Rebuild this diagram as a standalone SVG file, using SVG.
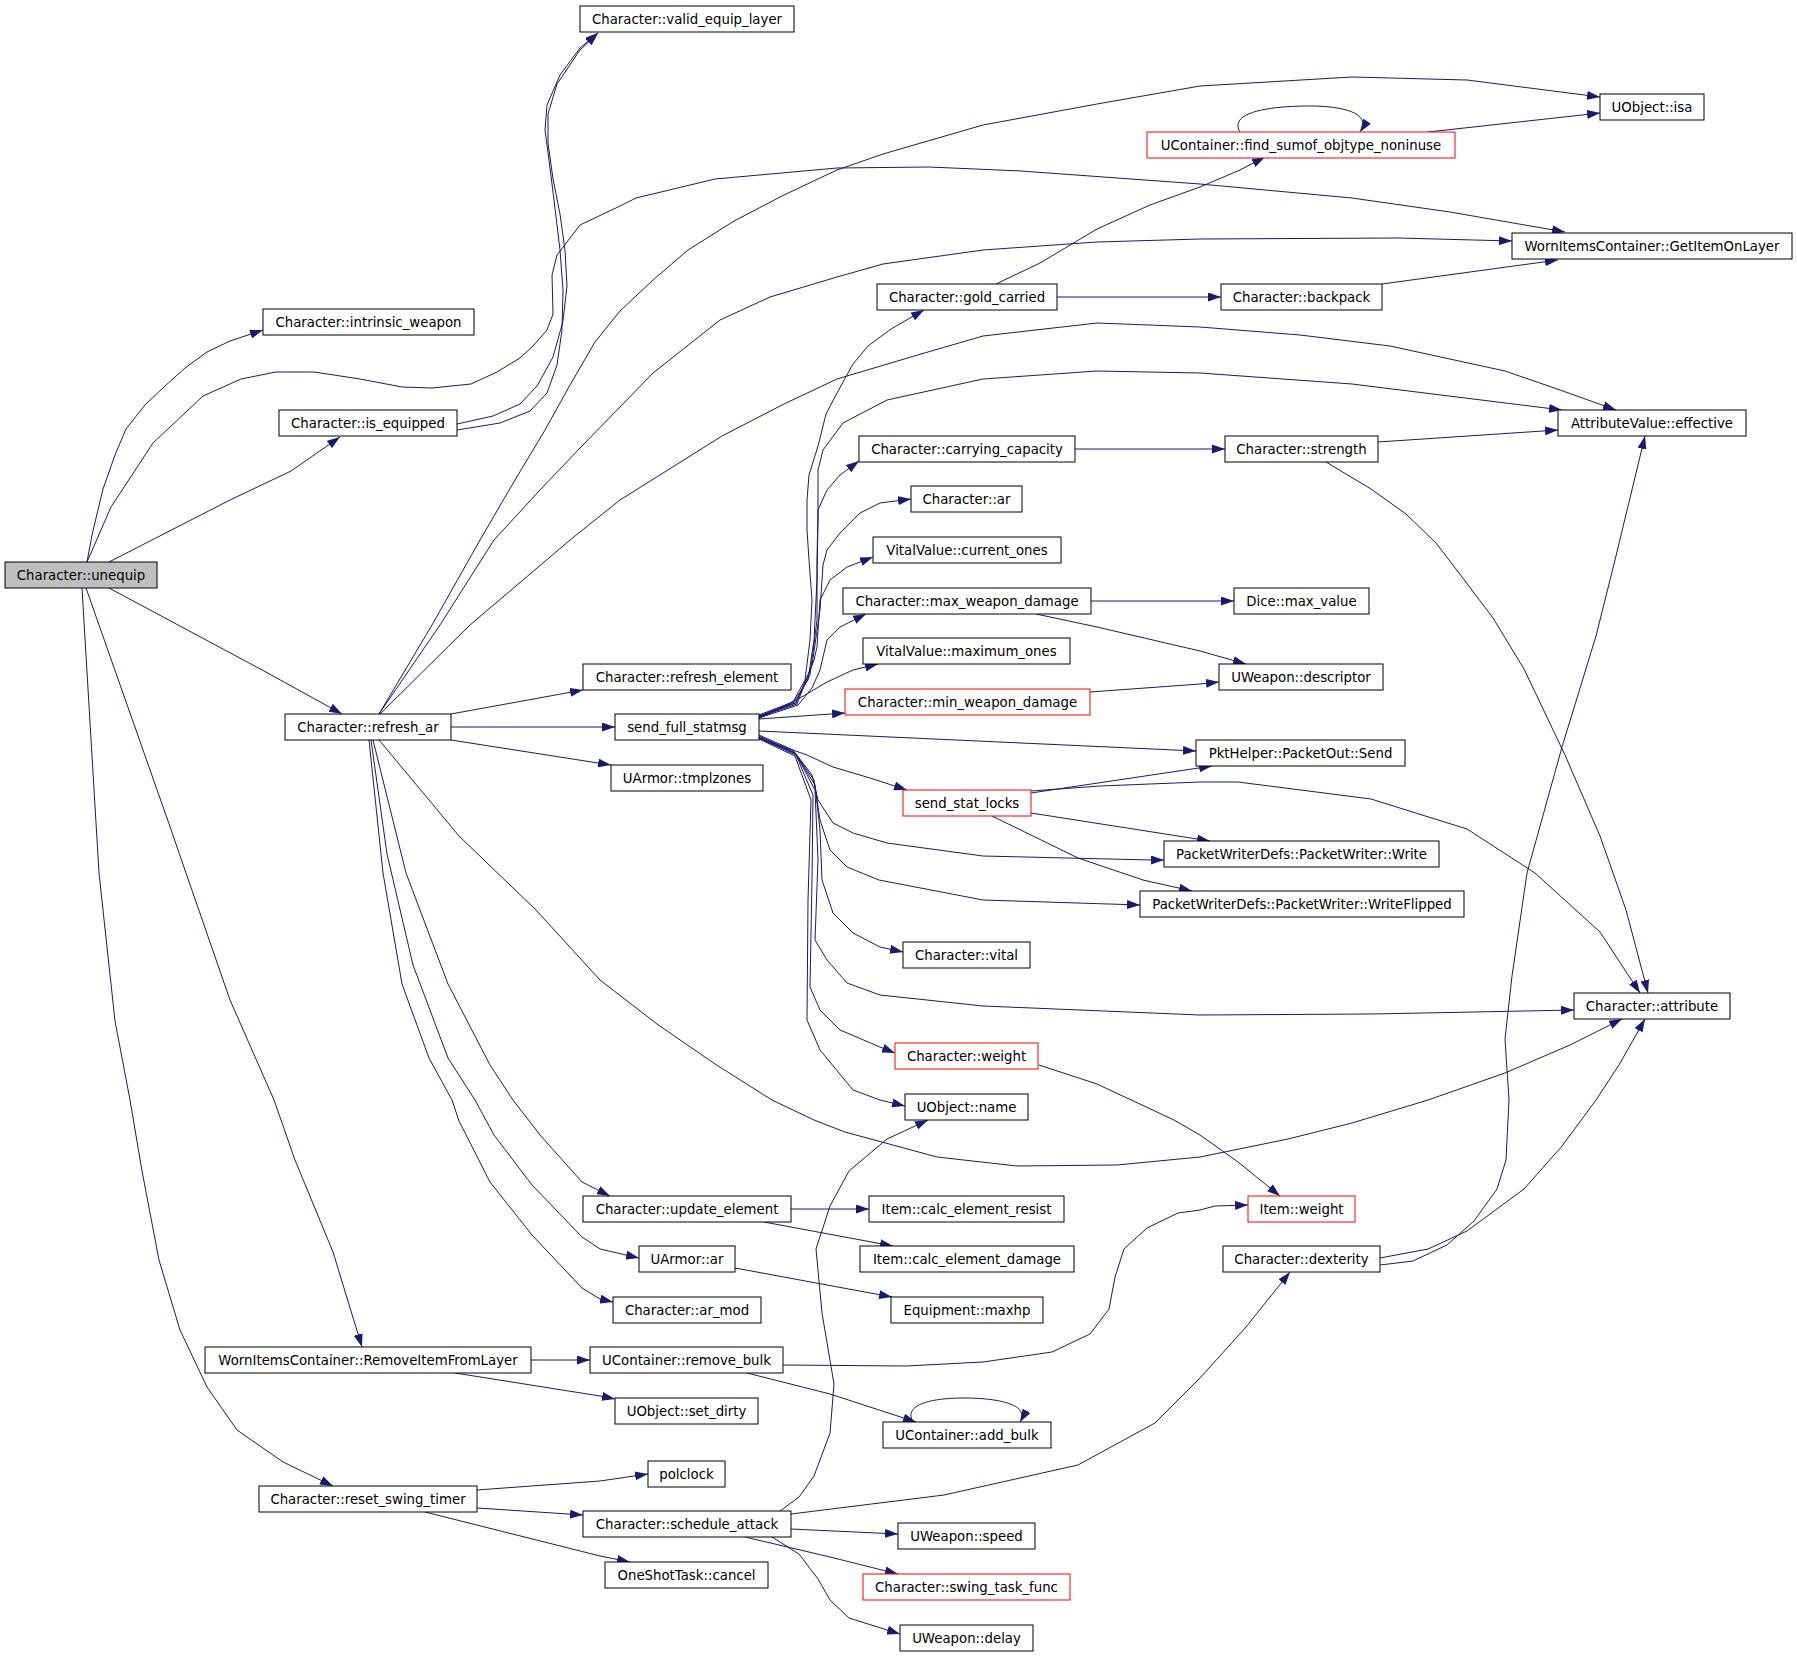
<svg xmlns="http://www.w3.org/2000/svg" width="1797" height="1656" viewBox="0 0 1797 1656">
<style>
.nd rect{fill:#fff;stroke:#000;stroke-width:1}
.nd.red rect{stroke:#f00}
.nd.cur rect{fill:#bfbfbf}
.nd text{font-family:"DejaVu Sans","Liberation Sans",sans-serif;font-size:13.3px;text-anchor:middle;fill:#000}
#edges polyline,#edges path{fill:none;stroke:#191970;stroke-width:1;stroke-linejoin:round;marker-end:url(#a)}
</style>
<defs>
<marker id="a" viewBox="0 0 13 9" refX="13" refY="4.5" markerWidth="13" markerHeight="9" markerUnits="userSpaceOnUse" orient="auto">
<path d="M0,0 L13,4.5 L0,9 z" fill="#191970"/>
</marker>
</defs>
<rect width="1797" height="1656" fill="#fff"/>
<g id="edges">
<polyline points="87,562 92,535 103,489 115,455 126,429 145,405 165,386 185,368 207,352 230,341 263,330"/>
<polyline points="109,562 230,500 291,471 340,437"/>
<polyline points="87,562 111,507 153,443 203,396 241,379 276,372 314,372 360,379 402,387 432,388 471,384 497,372 520,358 533,346 547,330 553,314 552,275 557,255 570,238 580,225 620,206 636,198 715,179 837,168 929,167 1021,171 1200,184 1352,198 1450,212 1565,232"/>
<polyline points="109,588 264,671 342,714"/>
<polyline points="86,588 168,821 230,1000 274,1100 295,1160 333,1252 362,1347"/>
<polyline points="82,588 99,873 115,1021 130,1100 142,1171 159,1260 180,1330 207,1387 237,1430 283,1462 333,1486"/>
<polyline points="457,424 493,416 520,404 537,386 553,357 563,321 567,286 565,250 560,214 553,179 548,143 548,114 557,84 580,50 598,33"/>
<polyline points="457,430 500,423 530,411 547,393 557,365 562,330 563,290 560,250 554,200 549,160 545,130 547,105 560,75 580,48 598,33"/>
<polyline points="379,714 432,625 480,540 515,480 545,430 570,385 595,342 620,311 653,280 688,250 734,221 784,195 837,170 883,154 983,125 1097,104 1200,86 1352,77 1467,80 1600,97"/>
<polyline points="379,714 440,625 494,540 540,490 580,448 620,407 653,373 720,320 770,297 837,277 883,264 983,250 1097,242 1200,239 1398,238 1512,241"/>
<polyline points="380,714 470,625 570,540 620,500 722,436 784,404 837,379 921,354 983,336 1097,323 1200,327 1300,335 1390,346 1505,371 1560,390 1616,410"/>
<polyline points="451,714 583,690"/>
<polyline points="451,727 615,727"/>
<polyline points="451,740 611,765"/>
<polyline points="379,740 459,836 536,910 600,980 657,1024 715,1064 772,1100 814,1120 845,1132 937,1157 1017,1166 1117,1165 1200,1157 1288,1139 1352,1123 1428,1100 1505,1073 1570,1045 1622,1019"/>
<polyline points="373,740 406,873 448,984 490,1065 513,1100 540,1135 582,1182 610,1196"/>
<polyline points="371,740 387,854 413,965 448,1058 475,1100 494,1135 532,1185 582,1237 600,1249 639,1258"/>
<polyline points="369,740 383,873 402,984 429,1058 452,1100 459,1121 490,1182 532,1235 582,1288 600,1299 613,1302"/>
<polyline points="759,715 793,702 805,680 810,640 812,600 809,560 807,530 807,500 809,475 818,446 826,414 837,393 853,364 868,346 891,329 924,310"/>
<polyline points="759,716 793,703 808,680 814,640 817,580 818,520 818,470 823,450 843,423 887,400 983,379 1097,371 1200,373 1352,384 1562,410"/>
<polyline points="759,716 795,703 810,675 817,620 817,560 818,510 827,490 840,475 859,461"/>
<polyline points="759,717 796,703 812,665 820,610 823,565 827,550 840,533 860,513 880,503 911,499"/>
<polyline points="759,717 797,704 814,660 817,647 820,600 830,580 847,567 873,557"/>
<polyline points="759,718 798,705 812,688 820,670 827,640 840,627 866,614"/>
<polyline points="759,718 800,698 827,682 853,670 878,664"/>
<polyline points="759,719 845,713"/>
<polyline points="759,731 1196,751"/>
<polyline points="759,738 807,755 833,767 870,778 907,790"/>
<polyline points="759,735 793,750 812,775 818,800 833,823 853,833 887,843 983,856 1151,860 1164,860"/>
<polyline points="759,736 794,752 814,780 820,820 830,850 847,867 879,880 983,900 1140,905"/>
<polyline points="759,737 795,753 815,785 820,830 822,880 833,913 853,933 880,947 903,952"/>
<polyline points="759,738 796,754 815,790 818,860 815,940 827,960 847,983 880,995 983,1006 1200,1015 1371,1014 1474,1012 1574,1010"/>
<polyline points="759,738 796,755 813,795 812,880 810,987 820,1010 840,1030 880,1047 895,1053"/>
<polyline points="759,739 795,756 811,800 808,900 807,1020 820,1050 853,1090 880,1100 905,1106"/>
<polyline points="996,284 1040,263 1097,229 1150,205 1200,187 1240,170 1265,157"/>
<polyline points="1057,297 1221,297"/>
<polyline points="1382,284 1558,260"/>
<path d="M1240,132 C1228,112 1270,106 1310,106 C1345,106 1372,114 1360,132"/>
<polyline points="1428,132 1600,113"/>
<polyline points="1075,449 1225,449"/>
<polyline points="1378,442 1558,430"/>
<polyline points="1326,462 1371,489 1406,514 1436,543 1459,573 1493,618 1524,669 1565,755 1600,836 1626,910 1648,993"/>
<polyline points="1091,601 1234,601"/>
<polyline points="1036,614 1097,627 1200,651 1246,664"/>
<polyline points="1090,692 1200,684 1219,682"/>
<polyline points="1031,793 1212,766"/>
<polyline points="1031,791 1100,786 1200,782 1238,782 1371,799 1467,829 1535,873 1600,932 1640,993"/>
<polyline points="1031,813 1210,841"/>
<polyline points="992,816 1078,858 1143,880 1192,891"/>
<polyline points="1039,1065 1097,1084 1174,1120 1200,1135 1238,1162 1280,1196"/>
<polyline points="791,1209 869,1209"/>
<polyline points="764,1222 893,1246"/>
<polyline points="735,1268 892,1297"/>
<polyline points="531,1360 590,1360"/>
<polyline points="455,1373 600,1396 615,1399"/>
<polyline points="783,1365 906,1366 983,1362 1052,1352 1090,1334 1109,1309 1115,1277 1124,1249 1147,1228 1178,1213 1200,1210 1215,1206 1248,1205"/>
<polyline points="747,1373 830,1394 916,1422"/>
<path d="M913,1422 C903,1405 930,1398 964,1398 C1000,1398 1030,1405 1020,1422"/>
<polyline points="477,1490 600,1481 648,1474"/>
<polyline points="477,1508 583,1515"/>
<polyline points="425,1512 600,1556 630,1562"/>
<polyline points="780,1511 799,1497 814,1476 830,1433 834,1384 822,1313 816,1249 830,1206 849,1171 887,1139 928,1120"/>
<polyline points="791,1514 944,1495 1078,1465 1155,1423 1200,1378 1246,1327 1290,1272"/>
<polyline points="791,1529 898,1534"/>
<polyline points="745,1537 830,1557 898,1574"/>
<polyline points="772,1537 799,1554 818,1579 830,1600 849,1618 900,1634"/>
<polyline points="1380,1265 1413,1261 1447,1245 1474,1221 1497,1189 1506,1160 1509,1100 1505,1039 1512,976 1527,873 1562,747 1596,636 1615,560 1645,436"/>
<polyline points="1380,1258 1428,1249 1467,1231 1524,1189 1562,1146 1596,1100 1619,1065 1645,1019"/>
</g>
<g id="n_unequip" class="nd cur"><rect x="5" y="562" width="152" height="26"/><text x="81" y="580">Character::unequip</text></g>
<g id="n_intrinsic" class="nd"><rect x="263" y="309" width="211" height="26"/><text x="368.5" y="327">Character::intrinsic_weapon</text></g>
<g id="n_is_equipped" class="nd"><rect x="279" y="410" width="178" height="26"/><text x="368" y="428">Character::is_equipped</text></g>
<g id="n_refresh_ar" class="nd"><rect x="285" y="714" width="166" height="26"/><text x="368" y="732">Character::refresh_ar</text></g>
<g id="n_remove_layer" class="nd"><rect x="205" y="1347" width="326" height="26"/><text x="368" y="1365">WornItemsContainer::RemoveItemFromLayer</text></g>
<g id="n_reset_swing" class="nd"><rect x="259" y="1486" width="218" height="26"/><text x="368" y="1504">Character::reset_swing_timer</text></g>
<g id="n_valid" class="nd"><rect x="580" y="6" width="214" height="26"/><text x="687" y="24">Character::valid_equip_layer</text></g>
<g id="n_refresh_element" class="nd"><rect x="583" y="664" width="208" height="26"/><text x="687" y="682">Character::refresh_element</text></g>
<g id="n_send_full" class="nd"><rect x="615" y="714" width="144" height="26"/><text x="687" y="732">send_full_statmsg</text></g>
<g id="n_tmplzones" class="nd"><rect x="611" y="765" width="152" height="26"/><text x="687" y="783">UArmor::tmplzones</text></g>
<g id="n_update_element" class="nd"><rect x="583" y="1196" width="208" height="26"/><text x="687" y="1214">Character::update_element</text></g>
<g id="n_uarmor_ar" class="nd"><rect x="639" y="1246" width="96" height="26"/><text x="687" y="1264">UArmor::ar</text></g>
<g id="n_ar_mod" class="nd"><rect x="613" y="1297" width="148" height="26"/><text x="687" y="1315">Character::ar_mod</text></g>
<g id="n_remove_bulk" class="nd"><rect x="590" y="1347" width="193" height="26"/><text x="686.5" y="1365">UContainer::remove_bulk</text></g>
<g id="n_set_dirty" class="nd"><rect x="615" y="1398" width="143" height="26"/><text x="686.5" y="1416">UObject::set_dirty</text></g>
<g id="n_polclock" class="nd"><rect x="648" y="1461" width="77" height="26"/><text x="686.5" y="1479">polclock</text></g>
<g id="n_schedule" class="nd"><rect x="583" y="1511" width="208" height="26"/><text x="687" y="1529">Character::schedule_attack</text></g>
<g id="n_cancel" class="nd"><rect x="605" y="1562" width="163" height="26"/><text x="686.5" y="1580">OneShotTask::cancel</text></g>
<g id="n_gold" class="nd"><rect x="877" y="284" width="180" height="26"/><text x="967" y="302">Character::gold_carried</text></g>
<g id="n_carrying" class="nd"><rect x="859" y="436" width="216" height="26"/><text x="967" y="454">Character::carrying_capacity</text></g>
<g id="n_char_ar" class="nd"><rect x="911" y="486" width="111" height="26"/><text x="966.5" y="504">Character::ar</text></g>
<g id="n_cur_ones" class="nd"><rect x="873" y="537" width="188" height="26"/><text x="967" y="555">VitalValue::current_ones</text></g>
<g id="n_max_wd" class="nd"><rect x="843" y="588" width="248" height="26"/><text x="967" y="606">Character::max_weapon_damage</text></g>
<g id="n_max_ones" class="nd"><rect x="863" y="638" width="207" height="26"/><text x="966.5" y="656">VitalValue::maximum_ones</text></g>
<g id="n_min_wd" class="nd red"><rect x="845" y="689" width="245" height="26"/><text x="967.5" y="707">Character::min_weapon_damage</text></g>
<g id="n_stat_locks" class="nd red"><rect x="903" y="790" width="128" height="26"/><text x="967" y="808">send_stat_locks</text></g>
<g id="n_vital" class="nd"><rect x="903" y="942" width="127" height="26"/><text x="966.5" y="960">Character::vital</text></g>
<g id="n_char_weight" class="nd red"><rect x="895" y="1043" width="143" height="26"/><text x="966.5" y="1061">Character::weight</text></g>
<g id="n_name" class="nd"><rect x="905" y="1094" width="123" height="26"/><text x="966.5" y="1112">UObject::name</text></g>
<g id="n_calc_resist" class="nd"><rect x="869" y="1196" width="195" height="26"/><text x="966.5" y="1214">Item::calc_element_resist</text></g>
<g id="n_calc_damage" class="nd"><rect x="860" y="1246" width="214" height="26"/><text x="967" y="1264">Item::calc_element_damage</text></g>
<g id="n_maxhp" class="nd"><rect x="891" y="1297" width="152" height="26"/><text x="967" y="1315">Equipment::maxhp</text></g>
<g id="n_add_bulk" class="nd"><rect x="883" y="1422" width="168" height="26"/><text x="967" y="1440">UContainer::add_bulk</text></g>
<g id="n_speed" class="nd"><rect x="898" y="1523" width="137" height="26"/><text x="966.5" y="1541">UWeapon::speed</text></g>
<g id="n_swing" class="nd red"><rect x="863" y="1574" width="207" height="26"/><text x="966.5" y="1592">Character::swing_task_func</text></g>
<g id="n_delay" class="nd"><rect x="900" y="1625" width="133" height="26"/><text x="966.5" y="1643">UWeapon::delay</text></g>
<g id="n_find_sumof" class="nd red"><rect x="1147" y="132" width="308" height="26"/><text x="1301" y="150">UContainer::find_sumof_objtype_noninuse</text></g>
<g id="n_backpack" class="nd"><rect x="1221" y="284" width="161" height="26"/><text x="1301.5" y="302">Character::backpack</text></g>
<g id="n_strength" class="nd"><rect x="1225" y="436" width="153" height="26"/><text x="1301.5" y="454">Character::strength</text></g>
<g id="n_dice" class="nd"><rect x="1234" y="588" width="135" height="26"/><text x="1301.5" y="606">Dice::max_value</text></g>
<g id="n_descriptor" class="nd"><rect x="1219" y="664" width="164" height="26"/><text x="1301" y="682">UWeapon::descriptor</text></g>
<g id="n_send" class="nd"><rect x="1196" y="740" width="209" height="26"/><text x="1300.5" y="758">PktHelper::PacketOut::Send</text></g>
<g id="n_write" class="nd"><rect x="1164" y="841" width="275" height="26"/><text x="1301.5" y="859">PacketWriterDefs::PacketWriter::Write</text></g>
<g id="n_writeflipped" class="nd"><rect x="1140" y="891" width="324" height="26"/><text x="1302" y="909">PacketWriterDefs::PacketWriter::WriteFlipped</text></g>
<g id="n_item_weight" class="nd red"><rect x="1248" y="1196" width="107" height="26"/><text x="1301.5" y="1214">Item::weight</text></g>
<g id="n_dexterity" class="nd"><rect x="1223" y="1246" width="157" height="26"/><text x="1301.5" y="1264">Character::dexterity</text></g>
<g id="n_isa" class="nd"><rect x="1600" y="94" width="104" height="26"/><text x="1652" y="112">UObject::isa</text></g>
<g id="n_getitem" class="nd"><rect x="1512" y="233" width="280" height="26"/><text x="1652" y="251">WornItemsContainer::GetItemOnLayer</text></g>
<g id="n_effective" class="nd"><rect x="1558" y="410" width="188" height="26"/><text x="1652" y="428">AttributeValue::effective</text></g>
<g id="n_attribute" class="nd"><rect x="1574" y="993" width="156" height="26"/><text x="1652" y="1011">Character::attribute</text></g>
</svg>
